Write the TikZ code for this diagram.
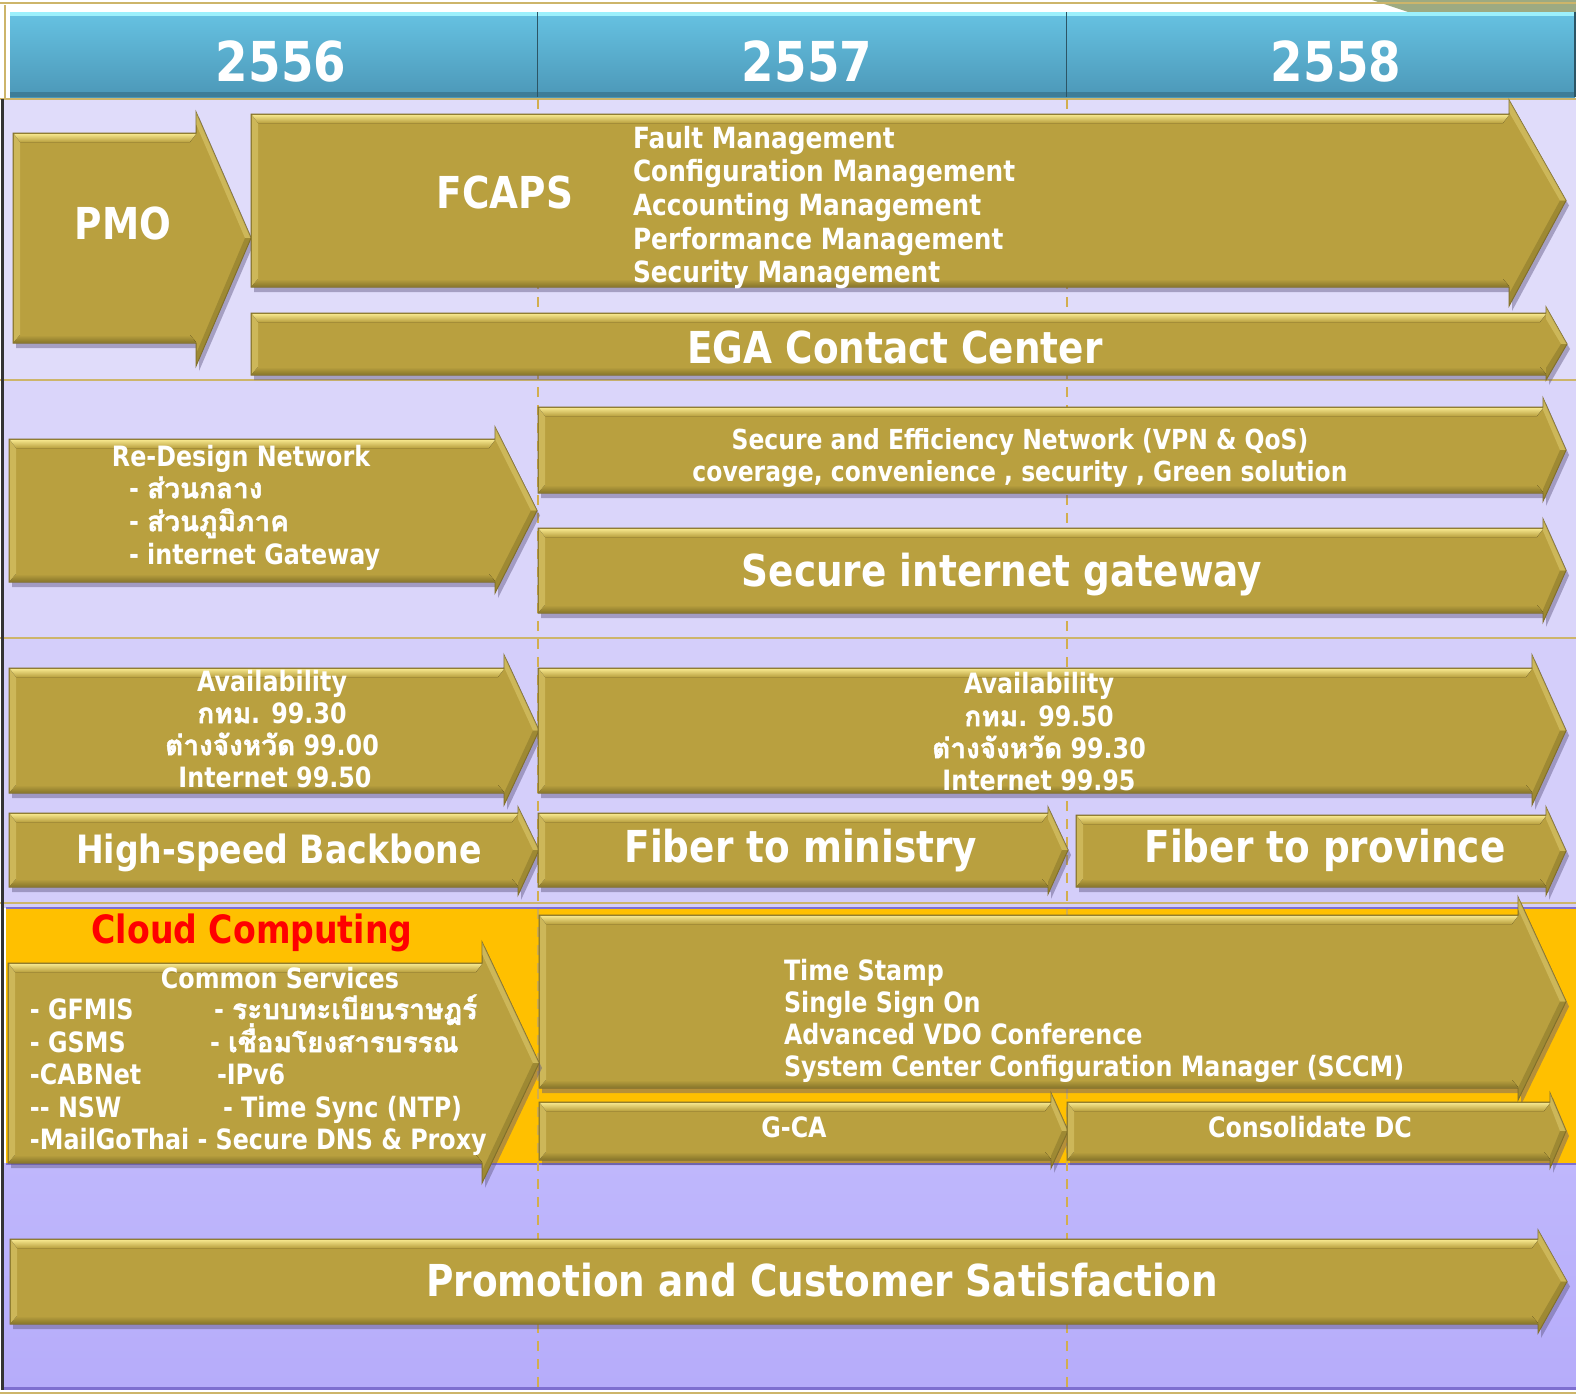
\documentclass[tikz,border=0pt]{standalone}
\usepackage{fontspec}
\setmainfont{DejaVu Sans}[FakeStretch=0.85]
\newfontfamily\thaifont[Script=Thai, BoldFeatures={FakeBold=1.6}]{Loma}
\newcommand{\tha}[1]{{\thaifont #1}}
\definecolor{gold}{HTML}{B9A03F}
\definecolor{goldhi}{HTML}{F4E48A}
\definecolor{goldlow}{HTML}{8C7A2C}
\definecolor{goldedge}{HTML}{7D6C2A}
\definecolor{shadowc}{HTML}{5E5680}
\definecolor{hbtop}{HTML}{66C2E2}
\definecolor{hbbot}{HTML}{4C98B8}
\definecolor{hbhi}{HTML}{9CF0FC}
\definecolor{hbdark}{HTML}{3E7D97}
\definecolor{hbline}{HTML}{2C5565}
\definecolor{lavA}{HTML}{E0DCFA}
\definecolor{lavB}{HTML}{DAD5FA}
\definecolor{lavC}{HTML}{D4CEFA}
\definecolor{lavD}{HTML}{BFB7FC}
\definecolor{lavE}{HTML}{B6ACFA}
\definecolor{orangeband}{HTML}{FFC000}
\definecolor{frame}{HTML}{CDB56A}
\definecolor{dashgold}{HTML}{D2AE4E}
\definecolor{purpline}{HTML}{7E6FD0}
\definecolor{topgreen}{HTML}{9DAA82}
\definecolor{cloudred}{HTML}{FF0000}
\newcommand{\yearbar}[2]{%
  \fill[top color=hbtop, bottom color=hbbot] (#1,12) rectangle (#2,97);
  \fill[hbhi] (#1,12) rectangle (#2,16);
  \fill[hbdark] (#1,92) rectangle (#2,97);
  \draw[hbline, line width=0.6pt] (#2,12) -- (#2,97);
}
% #1 x1, #2 ytop, #3 ybot, #4 xhead, #5 head top, #6 head bottom, #7 tip x
\newcommand{\garrow}[7]{%
  \pgfmathsetmacro{\gym}{(#2+#3)/2}%
  \fill[shadowc, opacity=0.45] (#1+3,#2+5) -- (#4+3,#2+5) -- (#4+3,#5+5) -- (#7+3,\gym+5) -- (#4+3,#6+5) -- (#4+3,#3+5) -- (#1+3,#3+5) -- cycle;
  \filldraw[fill=gold, draw=goldedge, line width=0.5pt] (#1,#2) -- (#4,#2) -- (#4,#5) -- (#7,\gym) -- (#4,#6) -- (#4,#3) -- (#1,#3) -- cycle;
  \fill[top color=goldhi, bottom color=gold] (#1+1,#2+1) -- (#4,#2+1) -- (#4-6,#2+9) -- (#1+7,#2+9) -- cycle;
  \fill[top color=gold, bottom color=goldlow] (#1+7,#3-8) -- (#4-6,#3-8) -- (#4,#3-1) -- (#1+1,#3-1) -- cycle;
  \fill[goldhi, opacity=0.35] (#1+1,#2+1) -- (#1+7,#2+9) -- (#1+7,#3-8) -- (#1+1,#3-1) -- cycle;
  \fill[goldhi, opacity=0.35] (#4,#5) -- (#7,\gym) -- (#7-6,\gym) -- (#4,#5+12) -- cycle;
  \fill[goldlow, opacity=0.6] (#4,#6) -- (#7,\gym) -- (#7-6,\gym) -- (#4,#6-12) -- cycle;
}
\tikzset{
  lbl/.style={text=white, inner sep=0pt, outer sep=0pt},
  syear/.style={font=\fontsize{27.5}{30}\selectfont\bfseries, text height=20pt, text depth=0pt},
  sbig/.style={font=\fontsize{22}{26}\selectfont\bfseries, text height=16pt, text depth=0pt},
  smid/.style={font=\fontsize{19.5}{23}\selectfont\bfseries, text height=14.2pt, text depth=0pt},
  ssml/.style={font=\fontsize{14}{16}\selectfont\bfseries, text height=10.2pt, text depth=0pt},
  ssmb/.style={font=\fontsize{13.8}{16}\selectfont\bfseries, text height=10.1pt, text depth=0pt},
  slist/.style={font=\fontsize{14.6}{17}\selectfont\bfseries, text height=10.6pt, text depth=0pt},
  dashline/.style={draw=dashgold, line width=0.8pt, dash pattern=on 5pt off 4pt},
  frameline/.style={draw=frame, line width=1.2pt},
}
\begin{document}
\begin{tikzpicture}[x=0.5pt,y=-0.5pt]
\useasboundingbox (0,0) rectangle (1576,1397);
\fill[white] (0,0) rectangle (1576,1397);
% top decoration
\fill[topgreen] (1372,0) -- (1576,0) -- (1576,12) -- (1408,12) -- cycle;
\draw[frameline] (0,3) -- (1576,3);
\draw[frameline] (5,5) -- (5,99);
% row backgrounds
\fill[lavA] (4,99) rectangle (1576,380);
\fill[lavB] (4,380) rectangle (1576,638);
\fill[lavC] (4,638) rectangle (1576,908);
\fill[top color=lavD, bottom color=lavE] (4,1163) rectangle (1576,1388);
\fill[orangeband] (6,908) rectangle (1576,1163);
\draw[purpline, line width=0.8pt] (6,908) -- (1576,908);
\draw[purpline, line width=1.2pt] (6,1164) -- (1576,1164);
\draw[purpline, line width=1.5pt] (4,1388) -- (1576,1388);
% frame lines
\draw[frameline] (0,99) -- (1576,99);
\draw[frameline] (0,380) -- (1576,380);
\draw[frameline] (0,638) -- (1576,638);
\draw[frameline] (0,903) -- (1576,903);
\draw[frameline] (0,1393) -- (1576,1393);
\draw[black!80, line width=1.5pt] (2,99) -- (2,1390);
% dashed year dividers
\draw[dashline] (538,99) -- (538,1388);
\draw[dashline] (1067,99) -- (1067,1388);
% year header
\yearbar{10}{538}
\yearbar{538}{1067}
\yearbar{1067}{1575}
\node[lbl, syear] (y1) at (281,62) {2556};
\node[lbl, syear] (y2) at (807,62) {2557};
\node[lbl, syear] (y3) at (1336,62) {2558};
% row 1
\garrow{13}{133}{343}{196}{112}{366}{251}
\garrow{251}{114}{287}{1509}{100}{306}{1566}
\garrow{251}{313}{375}{1546}{307}{380}{1567}
\node[lbl, sbig] (pmo) at (123,223) {PMO};
\node[lbl, sbig] (fcaps) at (505,192) {FCAPS};
\node[lbl, slist, anchor=west] (fc1) at (633,138) {Fault Management};
\node[lbl, slist, anchor=west] (fc2) at (633,171) {Configuration Management};
\node[lbl, slist, anchor=west] (fc3) at (633,205) {Accounting Management};
\node[lbl, slist, anchor=west] (fc4) at (633,239) {Performance Management};
\node[lbl, slist, anchor=west] (fc5) at (633,272) {Security Management};
\node[lbl, sbig] (ega) at (895,347) {EGA Contact Center};
% row 2
\garrow{9}{439}{582}{495}{427}{593}{537}
\garrow{538}{407}{493}{1543}{398}{501}{1566}
\garrow{538}{528}{613}{1543}{519}{622}{1566}
\node[lbl, ssml, anchor=west] (rd0) at (112,456) {Re-Design Network};
\node[lbl, ssml, anchor=west] (rd1) at (129,488) {- \tha{ส่วนกลาง}};
\node[lbl, ssml, anchor=west] (rd2) at (129,521) {- \tha{ส่วนภูมิภาค}};
\node[lbl, ssml, anchor=west] (rd3) at (129,554) {- internet Gateway};
\node[lbl, ssmb] (se1) at (1020,439) {Secure and Efficiency Network (VPN \& QoS)};
\node[lbl, ssmb] (se2) at (1020,471) {coverage, convenience , security , Green solution};
\node[lbl, sbig] (sgw) at (1002,570) {Secure internet gateway};
% row 3
\garrow{9}{668}{793}{504}{655}{805}{539}
\garrow{538}{668}{793}{1532}{655}{805}{1566}
\garrow{9}{813}{887}{518}{807}{895}{539}
\garrow{538}{813}{887}{1048}{807}{894}{1068}
\garrow{1076}{815}{887}{1546}{807}{895}{1566}
\node[lbl, ssml] (al1) at (272,681) {Availability};
\node[lbl, ssml] (al2) at (272,713) {\tha{กทม}. 99.30};
\node[lbl, ssml] (al3) at (272,745) {\tha{ต่างจังหวัด} 99.00};
\node[lbl, ssml] (al4) at (275,777) {Internet 99.50};
\node[lbl, ssml] (ar1) at (1039,683) {Availability};
\node[lbl, ssml] (ar2) at (1039,716) {\tha{กทม}. 99.50};
\node[lbl, ssml] (ar3) at (1039,748) {\tha{ต่างจังหวัด} 99.30};
\node[lbl, ssml] (ar4) at (1039,780) {Internet 99.95};
\node[lbl, smid] (hsb) at (279,849) {High-speed Backbone};
\node[lbl, sbig] (ftm) at (801,846) {Fiber to ministry};
\node[lbl, sbig] (ftp) at (1325,846) {Fiber to province};
% row 4 (cloud)
\node[inner sep=0pt, text=cloudred, smid] (cloud) at (252,929) {Cloud Computing};
\garrow{539}{915}{1088}{1518}{897}{1100}{1566}
\garrow{8}{963}{1163}{482}{942}{1183}{539}
\garrow{539}{1102}{1160}{1051}{1093}{1168}{1068}
\garrow{1067}{1102}{1160}{1550}{1093}{1168}{1566}
\node[lbl, ssml] (cs) at (280,978) {Common Services};
\node[lbl, ssml, anchor=west] (cs1) at (30,1009) {- GFMIS};
\node[lbl, ssml, anchor=west] (cs2) at (30,1042) {- GSMS};
\node[lbl, ssml, anchor=west] (cs3) at (30,1074) {-CABNet};
\node[lbl, ssml, anchor=west] (cs4) at (30,1107) {-{}- NSW};
\node[lbl, ssml, anchor=west] (cs5) at (30,1139) {-MailGoThai - Secure DNS \& Proxy};
\node[lbl, ssml, anchor=west] (cr1) at (214,1009) {- \tha{ระบบทะเบียนราษฎร์}};
\node[lbl, ssml, anchor=west] (cr2) at (210,1042) {- \tha{เชื่อมโยงสารบรรณ}};
\node[lbl, ssml, anchor=west] (cr3) at (217,1074) {-IPv6};
\node[lbl, ssml, anchor=west] (cr4) at (223,1107) {- Time Sync (NTP)};
\node[lbl, ssml, anchor=west] (ts1) at (784,970) {Time Stamp};
\node[lbl, ssml, anchor=west] (ts2) at (784,1002) {Single Sign On};
\node[lbl, ssml, anchor=west] (ts3) at (784,1034) {Advanced VDO Conference};
\node[lbl, ssml, anchor=west] (ts4) at (784,1066) {System Center Configuration Manager (SCCM)};
\node[lbl, ssml] (gca) at (794,1127) {G-CA};
\node[lbl, ssml] (cdc) at (1310,1127) {Consolidate DC};
% bottom row
\garrow{10}{1239}{1324}{1538}{1230}{1333}{1567}
\node[lbl, sbig] (promo) at (822,1280) {Promotion and Customer Satisfaction};
\end{tikzpicture}
\end{document}
